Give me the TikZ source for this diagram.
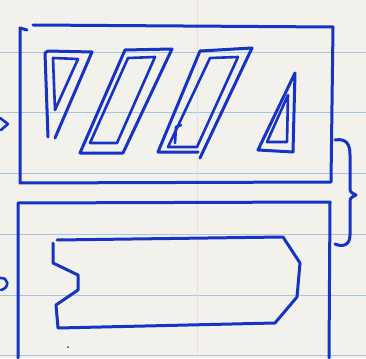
\documentclass[tikz,border=0pt]{standalone}
\definecolor{inkblue}{RGB}{22,52,196}
\definecolor{paper}{RGB}{243,241,235}
\definecolor{ruling}{RGB}{166,196,230}
\definecolor{margin}{RGB}{230,222,222}
\begin{document}
\begin{tikzpicture}[x=1pt,y=-1pt,
  ink/.style={draw=inkblue, line width=3pt, line join=round, line cap=round},
  thinink/.style={draw=inkblue, line width=2.6pt, line join=round, line cap=round},
  rulingline/.style={draw=ruling, line width=1pt}]
\fill[paper] (0,0) rectangle (366,358);
\useasboundingbox (0,0) rectangle (366,358);
% paper rulings
\foreach \y in {53,113,173,234,295,355} \draw[rulingline] (0,\y) -- (366,\y);
\draw[margin, line width=0.8pt] (197,0) -- (197,358);

% top frame
\draw[ink] (27,30) -- (20,28) -- (20,183) -- (331,182) -- (333,27) -- (33,25);

% left triangle (pointing down)
\draw[ink] (48,137) -- (45,53) -- (48,51) -- (92,52) -- (55,138);
\draw[thinink] (53,58) -- (78,59) -- (55,110) -- cycle;

% parallelogram 1
\draw[ink] (125,50) -- (172,49) -- (123,153) -- (80,153) -- cycle;
\draw[thinink] (128,58) -- (155,57) -- (117,143) -- (90,143) -- cycle;

% parallelogram 2
\draw[ink] (200,51) -- (252,48) -- (200,158);
\draw[ink] (200,51) -- (158,152) -- (198,152);
\draw[thinink] (210,58) -- (238,57) -- (197,147) -- (168,147) -- cycle;
\draw[thinink] (175,143) -- (176,127) -- (181,125);

% right triangle (pointing up)
\draw[ink] (295,73) -- (293,152) -- (258,150) -- cycle;
\draw[thinink] (288,95) -- (287,142) -- (267,142) -- cycle;

% bottom frame
\draw[ink] (18,358) -- (18,203) -- (330,202) -- (329,358);

% bottom profile
\draw[ink] (57,240) -- (283,237) -- (300,263) -- (297,297) -- (275,323)
  -- (58,328) -- (56,305) -- (78,290) -- (78,275) -- (53,263) -- (53,243);

% marks at left edge
\draw[thinink] (0,118) -- (8,124) -- (1,130);
\draw[thinink] (0,278) .. controls (9,277) and (10,288) .. (1,290);

% brace between frames
\draw[ink] (335,140) .. controls (347,138) and (350,145) .. (350,155)
  -- (350,187) .. controls (350,192) .. (356,195)
  .. controls (350,198) .. (350,204) -- (350,235)
  .. controls (350,246) and (342,247) .. (335,244);

% small dot
\fill[inkblue] (68,347) circle (1);
\end{tikzpicture}
\end{document}
